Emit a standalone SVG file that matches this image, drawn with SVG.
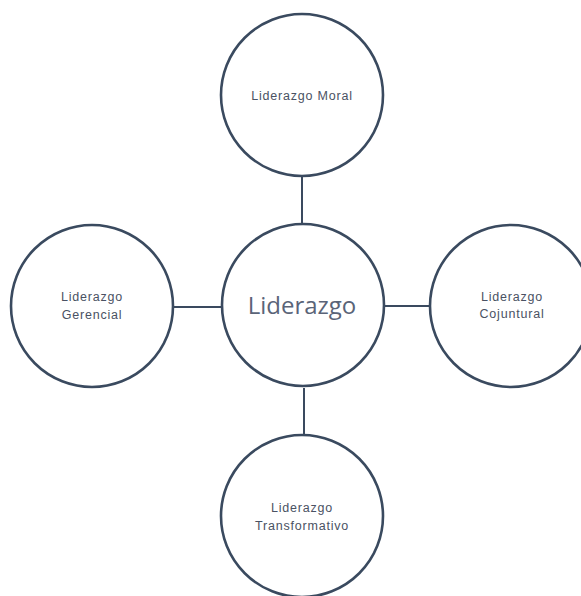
<svg xmlns="http://www.w3.org/2000/svg" width="581" height="596" viewBox="0 0 581 596">
<style>
.node circle{fill:#fff;stroke:#3a4a5f;stroke-width:2.6}
.conn line{stroke:#3a4a5f;stroke-width:2}
.small{font-family:"Liberation Sans",Arial,sans-serif;font-size:12.5px;letter-spacing:0.8px;fill:#4a5263;text-anchor:middle}
.big{font-family:"Open Sans","Liberation Sans",sans-serif;font-size:24px;fill:#5a6478;text-anchor:middle}
</style>
<rect width="581" height="596" fill="#fff"/>
<g class="conn" id="connectors">
<line x1="302" y1="176" x2="302" y2="223"/>
<line x1="174" y1="307" x2="222" y2="307"/>
<line x1="384" y1="306" x2="430" y2="306"/>
<line x1="304" y1="388" x2="304" y2="434"/>
</g>
<g class="node" id="n-moral">
<circle cx="302" cy="95" r="81"/>
<text class="small" x="302" y="100">Liderazgo Moral</text>
</g>
<g class="node" id="n-center">
<circle cx="303" cy="305" r="81"/>
<text class="big" x="302" y="314">Liderazgo</text>
</g>
<g class="node" id="n-gerencial">
<circle cx="92" cy="306" r="81"/>
<text class="small" x="92" y="301">Liderazgo</text>
<text class="small" x="92" y="319">Gerencial</text>
</g>
<g class="node" id="n-cojuntural">
<circle cx="511" cy="306" r="81"/>
<text class="small" x="512" y="301">Liderazgo</text>
<text class="small" x="512" y="318">Cojuntural</text>
</g>
<g class="node" id="n-transformativo">
<circle cx="302" cy="516" r="81"/>
<text class="small" x="302" y="512">Liderazgo</text>
<text class="small" x="302" y="530">Transformativo</text>
</g>
</svg>
